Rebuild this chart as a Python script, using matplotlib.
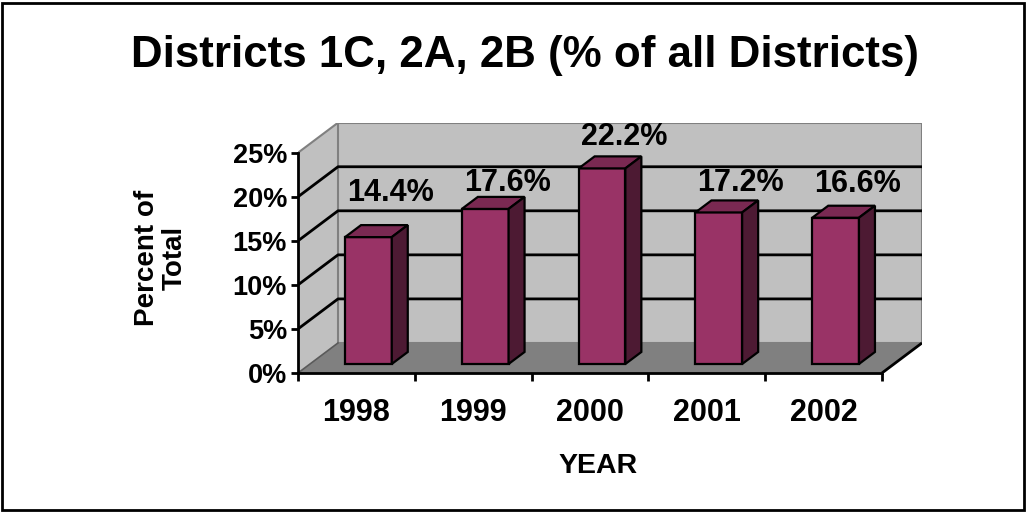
import matplotlib
matplotlib.use("Agg")
import matplotlib.pyplot as plt
from matplotlib.patches import Polygon, Rectangle

# Chart data
years = ["1998", "1999", "2000", "2001", "2002"]
share_pct = [14.4, 17.6, 22.2, 17.2, 16.6]
y_ticks = [0, 5, 10, 15, 20, 25]
y_tick_labels = ["0%", "5%", "10%", "15%", "20%", "25%"]

# Label nudges above each bar (percentage points)
label_lift = [6.0, 4.0, 4.6, 4.4, 4.8]

# 3-D look: depth vector of the floor in data units
DX, DY = 0.3425, 3.41
Y_MAX = 25
D_FRONT, D_BACK = 0.30, 0.70   # bar depth span (fraction of floor depth)
BAR_W = 0.40

WALL = "#C0C0C0"
FLOOR = "#808080"
EDGE_GRAY = "#808080"
FRONT = "#993366"
TOP = "#7A2952"
SIDE = "#4D1A33"

plt.rcParams["font.family"] = ["Liberation Sans", "DejaVu Sans"]
plt.rcParams["font.weight"] = "bold"

fig = plt.figure(figsize=(10.27, 5.12), dpi=100)
fig.patch.set_facecolor("white")

W, H = 1027, 512
ax = fig.add_axes([298 / W, (H - 373) / H, 624 / W, (373 - 122.7) / H])
n = len(years)
ax.set_xlim(0, n + DX)
ax.set_ylim(0, Y_MAX + DY)
ax.patch.set_visible(False)

# Left side wall
ax.add_patch(Polygon([(0, 0), (DX, DY), (DX, Y_MAX + DY), (0, Y_MAX)],
                     closed=True, facecolor=WALL, edgecolor="none", zorder=1))
# Back wall
ax.add_patch(Rectangle((DX, DY), n, Y_MAX, facecolor=WALL,
                       edgecolor=EDGE_GRAY, lw=1.5, zorder=1))
ax.plot([0, DX], [Y_MAX, Y_MAX + DY], color=EDGE_GRAY, lw=1.5, zorder=2)

# Gridlines on side and back walls
for t in y_ticks[1:-1]:
    ax.plot([0, DX, DX + n], [t, t + DY, t + DY], color="black", lw=2,
            zorder=2, solid_capstyle="butt")

# Floor
ax.add_patch(Polygon([(0, 0), (n, 0), (n + DX, DY), (DX, DY)], closed=True,
                     facecolor=FLOOR, edgecolor="none", zorder=3))
ax.plot([0, DX], [0, DY], color="#5a5a5a", lw=1.2, zorder=3)
ax.plot([n, n + DX], [0, DY], color="black", lw=2, zorder=6,
        solid_capstyle="butt")

# Bars: front face via ax.bar, top and side faces as polygons
x0 = [i + 0.5 - BAR_W / 2 + D_FRONT * DX for i in range(n)]
ax.bar(x0, share_pct, width=BAR_W, bottom=D_FRONT * DY, align="edge",
       color=FRONT, edgecolor="black", linewidth=1.6, zorder=5)
ddx = (D_BACK - D_FRONT) * DX
ddy = (D_BACK - D_FRONT) * DY
for xl, v in zip(x0, share_pct):
    xr = xl + BAR_W
    yb = D_FRONT * DY
    yt = yb + v
    ax.add_patch(Polygon([(xl, yt), (xr, yt), (xr + ddx, yt + ddy),
                          (xl + ddx, yt + ddy)], closed=True,
                         facecolor=TOP, edgecolor="black", lw=1.6, zorder=5))
    ax.add_patch(Polygon([(xr, yb), (xr + ddx, yb + ddy), (xr + ddx, yt + ddy),
                          (xr, yt)], closed=True,
                         facecolor=SIDE, edgecolor="black", lw=1.6, zorder=5))

# Value labels
for i, (v, lift) in enumerate(zip(share_pct, label_lift)):
    ax.text(i + 0.5 + 0.29, v + lift, f"{v:.1f}%", ha="center", va="center",
            fontsize=22, fontweight="bold", zorder=7)

# Axes spines and ticks on the front plane
for s in ("top", "right"):
    ax.spines[s].set_visible(False)
ax.spines["left"].set_bounds(0, Y_MAX)
ax.spines["bottom"].set_bounds(0, n)
for s in ("left", "bottom"):
    ax.spines[s].set_linewidth(2)
    ax.spines[s].set_zorder(6)

ax.set_yticks(y_ticks)
ax.set_yticklabels(y_tick_labels, fontsize=19.5, fontweight="bold")
ax.tick_params(axis="y", direction="out", length=5, width=2, pad=3)

ax.set_xticks(range(n + 1))
ax.set_xticklabels([])
ax.set_xticks([i + 0.5 for i in range(n)], minor=True)
ax.set_xticklabels(years, minor=True, fontsize=22, fontweight="bold")
ax.tick_params(axis="x", which="major", direction="out", length=6, width=2)
ax.tick_params(axis="x", which="minor", length=0, pad=18)

# Titles
fig.text(525 / W, 1 - 55 / H, "Districts 1C, 2A, 2B (% of all Districts)",
         ha="center", va="center", fontsize=31.6, fontweight="bold")
fig.text(598 / W, 1 - 466 / H, "YEAR", ha="center", va="center",
         fontsize=20.5, fontweight="bold")
fig.text(161 / W, 1 - 258 / H, "Percent of\nTotal", ha="center", va="center",
         rotation=90, fontsize=20, fontweight="bold", linespacing=1.1)

# Chart-area frame
fig.add_artist(Rectangle((2 / W, 2 / H), 1022 / W, 507 / H, fill=False,
                         edgecolor="black", lw=2, transform=fig.transFigure))

fig.savefig("out.png", dpi=100)
